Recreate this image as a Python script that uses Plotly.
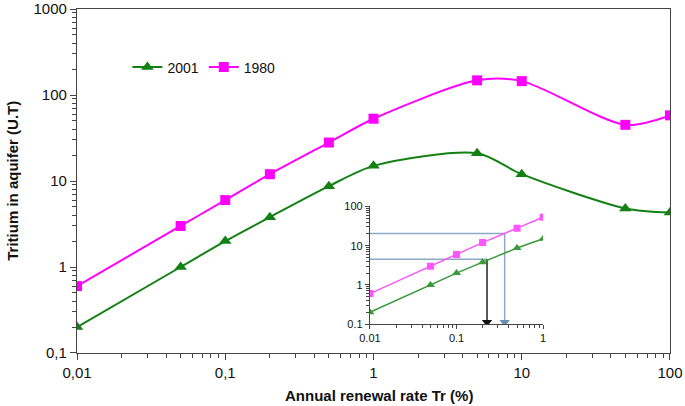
import plotly.graph_objects as go

rate = [0.01, 0.05, 0.1, 0.2, 0.5, 1, 5, 10, 50, 100]
t1980 = [0.6, 3.0, 6.0, 12.0, 28.0, 53.0, 148.0, 145.0, 45.0, 58.0]
t2001 = [0.2, 1.0, 2.0, 3.8, 8.7, 15.0, 21.0, 12.0, 4.8, 4.3]

inset_rate = rate[:6]
inset_1980 = t1980[:6]
inset_2001 = t2001[:6]

# reading lines in the inset
read_hi_y = 20.5
read_hi_x = 0.36
read_lo_y = 4.5
read_lo_x = 0.225
inset_floor = 0.1

main_xticks = [0.01, 0.1, 1, 10, 100]
main_xtext = ["0,01", "0,1", "1", "10", "100"]
main_yticks = [0.1, 1, 10, 100, 1000]
main_ytext = ["0,1", "1", "10", "100", "1000"]
inset_xticks = [0.01, 0.1, 1]
inset_xtext = ["0.01", "0.1", "1"]
inset_yticks = [0.1, 1, 10, 100]
inset_ytext = ["0.1", "1", "10", "100"]

GREEN = "#138013"
MAGENTA = "#ff00ff"
IGREEN = "#3a9a3a"
IMAGENTA = "#ff55ff"
STEEL = "#8caac6"
STEEL_D = "#6a8fae"

fig = go.Figure()
fig.add_trace(go.Scatter(x=rate, y=t2001, name="2001", mode="lines+markers",
                         line=dict(color=GREEN, width=2, shape="spline", smoothing=0.8),
                         marker=dict(symbol="triangle-up", size=11, color=GREEN)))
fig.add_trace(go.Scatter(x=rate, y=t1980, name="1980", mode="lines+markers",
                         line=dict(color=MAGENTA, width=2, shape="spline", smoothing=0.8),
                         marker=dict(symbol="square", size=10, color=MAGENTA)))

# inset
fig.add_trace(go.Scatter(x=[inset_rate[0], read_hi_x, read_hi_x], y=[read_hi_y, read_hi_y, inset_floor * 1.12],
                         xaxis="x2", yaxis="y2", mode="lines", showlegend=False,
                         line=dict(color=STEEL, width=1.5)))
fig.add_trace(go.Scatter(x=[read_hi_x], y=[inset_floor * 1.12], xaxis="x2", yaxis="y2", mode="markers",
                         showlegend=False, marker=dict(symbol="triangle-down", size=9, color=STEEL_D)))
fig.add_trace(go.Scatter(x=[inset_rate[0], read_lo_x], y=[read_lo_y, read_lo_y],
                         xaxis="x2", yaxis="y2", mode="lines", showlegend=False,
                         line=dict(color=STEEL, width=1.5)))
fig.add_trace(go.Scatter(x=[read_lo_x, read_lo_x], y=[read_lo_y, inset_floor * 1.12],
                         xaxis="x2", yaxis="y2", mode="lines", showlegend=False,
                         line=dict(color="#222222", width=1.5)))
fig.add_trace(go.Scatter(x=[read_lo_x], y=[inset_floor * 1.12], xaxis="x2", yaxis="y2", mode="markers",
                         showlegend=False, marker=dict(symbol="triangle-down", size=9, color="#111111")))
fig.add_trace(go.Scatter(x=inset_rate, y=inset_1980, xaxis="x2", yaxis="y2", mode="lines+markers",
                         showlegend=False, line=dict(color=IMAGENTA, width=1.5),
                         marker=dict(symbol="square", size=7, color=IMAGENTA)))
fig.add_trace(go.Scatter(x=inset_rate, y=inset_2001, xaxis="x2", yaxis="y2", mode="lines+markers",
                         showlegend=False, line=dict(color=IGREEN, width=1.5),
                         marker=dict(symbol="triangle-up", size=8, color=IGREEN)))

axis_font = dict(family="Liberation Sans, Arial, sans-serif", size=15, color="#111111")
fig.update_layout(
    width=685, height=406,
    margin=dict(l=77, r=15, t=9, b=53, autoexpand=False),
    paper_bgcolor="white", plot_bgcolor="white",
    font=dict(family="Liberation Sans, Arial, sans-serif", color="#111111"),
    showlegend=True,
    legend=dict(orientation="h", x=0.085, y=0.83, xanchor="left", yanchor="middle",
                font=dict(size=14), bgcolor="rgba(0,0,0,0)", itemwidth=30, tracegroupgap=0),
    xaxis=dict(type="log", range=[-2.0001, 2.0001], tickvals=main_xticks, ticktext=main_xtext, automargin=False,
               ticklabeloverflow="allow",
               showgrid=False, zeroline=False, showline=True, linecolor="#444444", linewidth=1.2,
               mirror=True, ticks="outside", ticklen=6, tickcolor="#444444", tickfont=axis_font,
               minor=dict(ticks="outside", ticklen=4, dtick="D1", tickcolor="#444444", showgrid=False)),
    yaxis=dict(type="log", range=[-1.0001, 3.0001], tickvals=main_yticks, ticktext=main_ytext, automargin=False,
               ticklabeloverflow="allow",
               showgrid=False, zeroline=False, showline=True, linecolor="#444444", linewidth=1.2,
               mirror=True, ticks="outside", ticklen=6, tickcolor="#444444", tickfont=axis_font,
               minor=dict(ticks="outside", ticklen=4, dtick="D1", tickcolor="#444444", showgrid=False)),
    xaxis2=dict(type="log", range=[-2.0001, 0.0001], domain=[0.494, 0.786], anchor="y2", automargin=False,
                tickvals=inset_xticks, ticktext=inset_xtext,
                showgrid=False, zeroline=False, showline=True, linecolor="#444444", linewidth=1.2,
                ticks="outside", ticklen=4, tickcolor="#444444", tickfont=dict(size=11),
                minor=dict(ticks="outside", ticklen=3, dtick="D1", tickcolor="#444444", showgrid=False)),
    yaxis2=dict(type="log", range=[-1.0001, 2.0001], domain=[0.084, 0.426], anchor="x2", automargin=False,
                tickvals=inset_yticks, ticktext=inset_ytext,
                showgrid=False, zeroline=False, showline=True, linecolor="#444444", linewidth=1.2,
                ticks="outside", ticklen=4, tickcolor="#444444", tickfont=dict(size=11),
                minor=dict(ticks="outside", ticklen=3, dtick="D1", tickcolor="#444444", showgrid=False)),
    annotations=[
        dict(text="<b>Annual renewal rate Tr (%)</b>", xref="paper", yref="paper", x=0.51, y=-0.123,
             xanchor="center", yanchor="middle", showarrow=False, font=dict(size=15)),
        dict(text="<b>Tritium in aquifer (U.T)</b>", xref="paper", yref="paper", x=-0.11, y=0.5,
             xanchor="center", yanchor="middle", showarrow=False, textangle=-90, font=dict(size=15)),
    ],
)
fig.write_html("out.html", config={"displayModeBar": False},
               post_script="document.body.style.margin='0';document.body.style.padding='0';document.body.style.overflow='hidden';")
